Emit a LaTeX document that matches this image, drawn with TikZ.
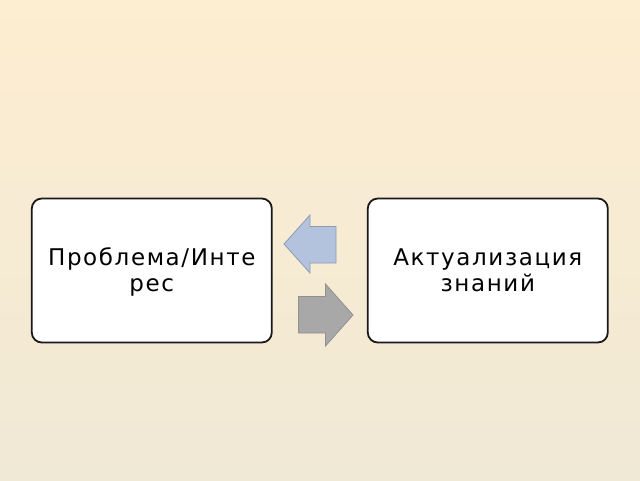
\documentclass[tikz,border=0pt]{standalone}
\usepackage{fontspec}
\setmainfont{DejaVu Sans}[LetterSpace=7]
\definecolor{bgtop}{RGB}{253,237,209}
\definecolor{bgbottom}{RGB}{240,233,213}
\definecolor{arrowblue}{RGB}{180,195,221}
\definecolor{arrowblueline}{RGB}{142,155,176}
\definecolor{arrowgray}{RGB}{168,168,168}
\definecolor{arrowgrayline}{RGB}{144,144,144}
\newcommand{\boxhigh}{\rule{0pt}{22pt}}
\newcommand{\boxlow}{\rule[-6pt]{0pt}{6pt}}
\tikzset{
  box/.style={draw=black!90,fill=white,line width=1.8pt,rounded corners=10pt,
    minimum width=240pt,minimum height=144pt,inner sep=0pt,align=center,
    font=\fontsize{23}{26}\selectfont}
}
\begin{document}
\begin{tikzpicture}[x=1pt,y=-1pt]
% The background
\shade[top color=bgtop,bottom color=bgbottom] (0,0) rectangle (640,480);
\useasboundingbox (0,0) rectangle (640,480);
% the two boxes
\node[box] (problem) at (151.8,270.5) {\boxhigh Проблема/Инте\\рес\boxlow};
\node[box] (knowledge) at (487.8,270.5) {\boxhigh Актуализация\\знаний\boxlow};
% the arrow back to the left box
\coordinate (l1) at (284,244);
\coordinate (l2) at (310,215);
\coordinate (l3) at (310,226.5);
\coordinate (l4) at (336,226.5);
\coordinate (l5) at (336,263);
\coordinate (l6) at (310,263);
\coordinate (l7) at (310,273);
\draw[fill=arrowblue,draw=arrowblueline,line width=.8pt]
  (l1) -- (l2) -- (l3) -- (l4) -- (l5) -- (l6) -- (l7) -- cycle;
% the arrow on to the right box
\coordinate (r1) at (353,315);
\coordinate (r2) at (325.5,284);
\coordinate (r3) at (325.5,296.5);
\coordinate (r4) at (298.5,296.5);
\coordinate (r5) at (298.5,333);
\coordinate (r6) at (325.5,333);
\coordinate (r7) at (325.5,346);
\draw[fill=arrowgray,draw=arrowgrayline,line width=.8pt]
  (r1) -- (r2) -- (r3) -- (r4) -- (r5) -- (r6) -- (r7) -- cycle;
\end{tikzpicture}
\end{document}
